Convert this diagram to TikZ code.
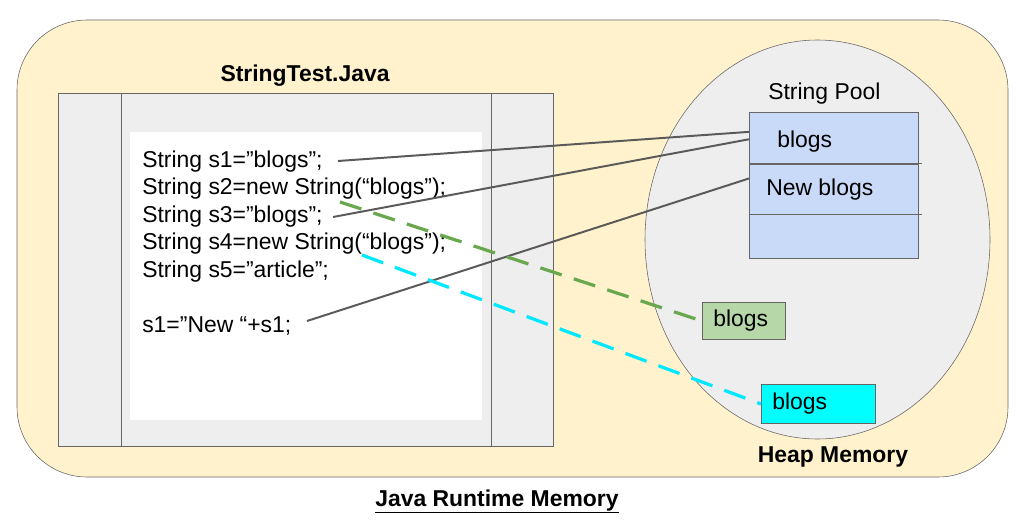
\documentclass[tikz,border=0pt]{standalone}
\usepackage{fontspec}
\setmainfont{Liberation Sans}
\usetikzlibrary{positioning,shapes.geometric}
\definecolor{memyellow}{HTML}{FFF2CC}
\definecolor{filegray}{HTML}{EEEEEE}
\definecolor{poolblue}{HTML}{C9DAF8}
\definecolor{heapgreen}{HTML}{B6D7A8}
\definecolor{heapcyan}{HTML}{00FFFF}
\definecolor{dashgreen}{HTML}{6AA84F}
\definecolor{dashcyan}{HTML}{00E8FF}
\definecolor{edgegray}{HTML}{666666}
\definecolor{linkgray}{HTML}{5A5A5A}
\tikzstyle{code}=[anchor=base west, inner sep=0pt]
\tikzstyle{title}=[anchor=base, inner sep=0pt, font=\fontsize{16.3}{19.5}\selectfont\bfseries]
\tikzstyle{poolrow}=[draw=edgegray, fill=poolblue, minimum width=4.225cm,
  inner sep=0pt]
\tikzstyle{heapbox}=[draw=edgegray, anchor=west, align=left, inner xsep=0.275cm,
  inner ysep=0pt]
\tikzstyle{ref}=[linkgray, line width=1.4pt]
\tikzstyle{heapref}=[line width=2.3pt, dash pattern=on 16pt off 9pt]

\begin{document}
\begin{tikzpicture}[x=0.025cm, y=-0.025cm,
  every node/.style={font=\fontsize{16.3}{19.5}\selectfont}]
  \useasboundingbox (0,0) rectangle (1033,532);

  % runtime memory and the java file
  \draw[edgegray, fill=memyellow, rounded corners=1.75cm] (17,20) rectangle (1008,477);
  \draw[edgegray, fill=filegray] (58,93) rectangle (553,446);
  \draw[edgegray] (121,93) -- (121,446) (491,93) -- (491,446);
  \fill[white] (130,132) rectangle (482,420);
  \node[title] (filetitle) at (305,82) {StringTest.Java};

  \foreach \txt [count=\i] in {{String s1=”blogs”;}, {String s2=new String(“blogs”);},
      {String s3=”blogs”;}, {String s4=new String(“blogs”);}, {String s5=”article”;}}
    \node[code] (c\i) at (142,{167+(\i-1)*27.5}) {\txt};
  \node[code] (c6) at (142,332) {s1=”New “+s1;};

  % heap with the string pool
  \draw[edgegray, fill=filegray] (817.5,239.5) ellipse [x radius=172.5, y radius=199.5];
  \node[code] (pooltitle) at (768,100) {String Pool};
  \node[poolrow, minimum height=1.275cm, anchor=north west] (p1) at (749,112) {};
  \node[poolrow, minimum height=1.25cm, below=0pt of p1] (p2) {};
  \node[poolrow, minimum height=1.1cm, below=0pt of p2] (p3) {};
  \draw[edgegray] (p1.south east) -- ++(3,0) (p2.south east) -- ++(3,0);
  \node[code] (poolblogs) at (777,147) {blogs};
  \node[code] (poolnew) at (766,195) {New blogs};

  \node[heapbox, fill=heapgreen, text width=1.525cm, minimum height=0.925cm]
    (greenblogs) at (702,321) {blogs};
  \node[heapbox, fill=heapcyan, text width=2.3cm, minimum height=0.975cm]
    (cyanblogs) at (761,404) {blogs};
  \node[title] (heaplabel) at (833,462) {Heap Memory};
  \node[title] (runtime) at (497,506) {\underline{Java Runtime Memory}};

  % references
  \coordinate (s1ref) at (338,161);
  \coordinate (s3ref) at (333,217);
  \coordinate (s6ref) at (307,321);
  \coordinate (s2ref) at (340,202);
  \coordinate (s4ref) at (362,255);
  \draw[ref] (s1ref) -- (p1.176);
  \draw[ref] (s3ref) -- (p1.181);
  \draw[ref] (s6ref) -- (p2.173);
  \draw[heapref, dashgreen] (s2ref) -- (greenblogs.west);
  \draw[heapref, dashcyan] (s4ref) -- (cyanblogs.west);
\end{tikzpicture}
\end{document}
